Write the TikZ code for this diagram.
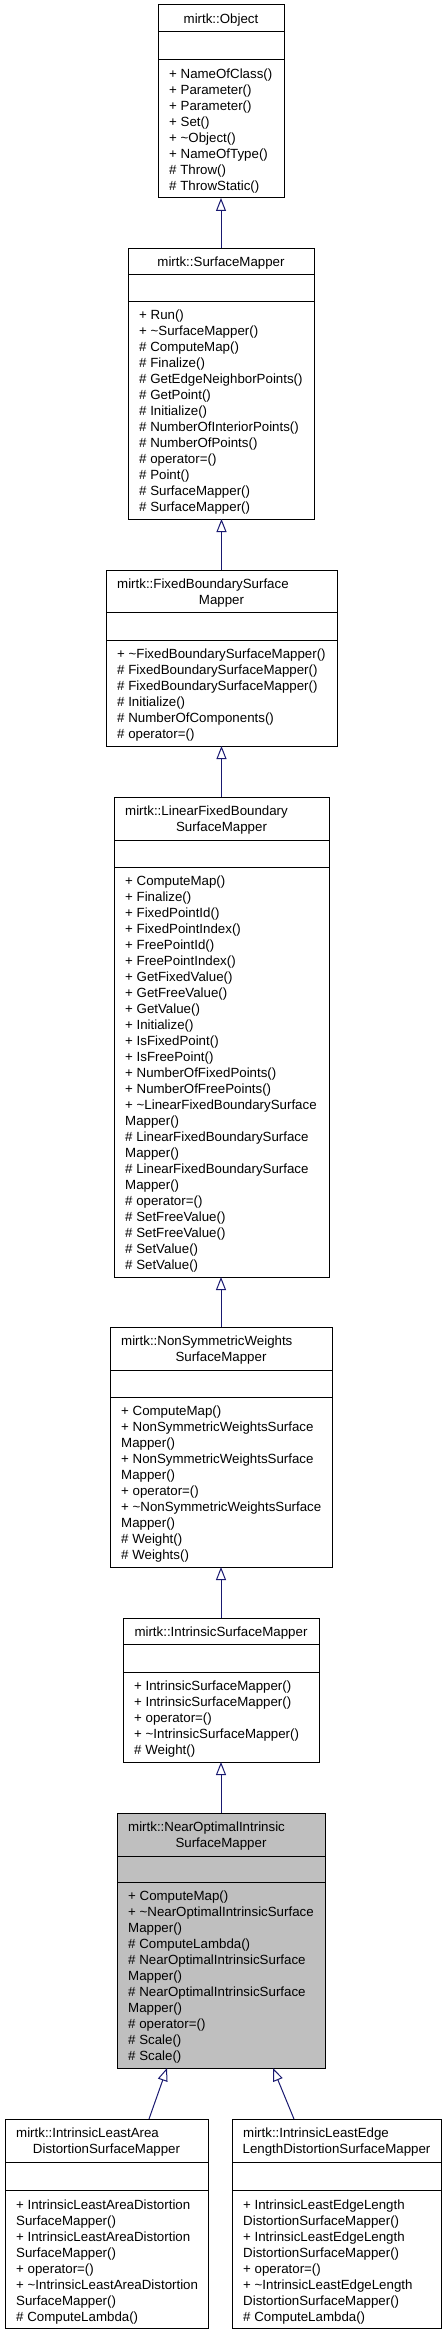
\documentclass[tikz,border=0pt]{standalone}
\usepackage{fontspec}
\setmainfont{Liberation Sans}
\usetikzlibrary{arrows.meta}
\definecolor{edgeblue}{HTML}{191970}
\definecolor{selfgray}{HTML}{BFBFBF}
\tikzset{
  cls/.style={draw=black, line width=1pt, rectangle, inner sep=0pt, outer sep=0pt},
  sepline/.style={draw=black, line width=1pt},
  mem/.style={anchor=base west, inner sep=0pt, font=\fontsize{13.3}{16}\selectfont},
  hdr/.style={inner sep=0pt, font=\fontsize{13.3}{16}\selectfont},
  inh/.style={draw=edgeblue, line width=1pt, -{Triangle[open, length=13pt, width=10pt]}}
}
% name, L, R, T, H, E, B, fill
\newcommand\classbox[8]{%
  \node[cls, fill=#8, minimum width={#3-#2}, minimum height={#7-#4}, anchor=north west] (#1) at (#2,#4) {};
  \draw[sepline] (#2,#5) -- (#3,#5);
  \draw[sepline] (#2,#6) -- (#3,#6);
}
% name, x, first baseline, list
\newcommand\members[4]{%
  \foreach \t [count=\i] in {#4} {\node[mem] (#1-\i) at ({#2},{#3+16*(\i-1)}) {\t};}
}
% single-line header: name, centre x, baseline, text
\newcommand\hdrone[4]{\node[hdr, anchor=base] (#1-h) at ({#2},{#3}) {#4};}
% two-line header: name, left x, centre x, baseline, line1, line2
\newcommand\hdrtwo[6]{%
  \node[hdr, anchor=base west] (#1-h1) at ({#2},{#4}) {#5};
  \node[hdr, anchor=base] (#1-h2) at ({#3},{#4+16}) {#6};
}
\begin{document}
\begin{tikzpicture}[x=1pt, y=-1pt]
\useasboundingbox (0,0) rectangle (447,2336);

% mirtk::Object
\classbox{obj}{158}{284}{5}{32}{60}{198}{white}
\hdrone{obj}{221}{23.5}{mirtk::Object}
\members{obj}{169}{78.5}{+ NameOfClass(), + Parameter(), + Parameter(), + Set(), + \textasciitilde Object(), + NameOfType(), \# Throw(), \# ThrowStatic()}

% mirtk::SurfaceMapper
\classbox{sm}{128}{314}{248}{274}{301}{519}{white}
\hdrone{sm}{221}{266}{mirtk::SurfaceMapper}
\members{sm}{139}{319.5}{+ Run(), + \textasciitilde SurfaceMapper(), \# ComputeMap(), \# Finalize(), \# GetEdgeNeighborPoints(), \# GetPoint(), \# Initialize(), \# NumberOfInteriorPoints(), \# NumberOfPoints(), \# operator=(), \# Point(), \# SurfaceMapper(), \# SurfaceMapper()}

% mirtk::FixedBoundarySurfaceMapper
\classbox{fb}{106}{337}{570}{612}{640}{746}{white}
\hdrtwo{fb}{117}{221.5}{588}{mirtk::FixedBoundarySurface}{Mapper}
\members{fb}{117}{658.5}{+ \textasciitilde FixedBoundarySurfaceMapper(), \# FixedBoundarySurfaceMapper(), \# FixedBoundarySurfaceMapper(), \# Initialize(), \# NumberOfComponents(), \# operator=()}

% mirtk::LinearFixedBoundarySurfaceMapper
\classbox{lf}{114}{329}{797}{840}{867}{1277}{white}
\hdrtwo{lf}{125}{221.5}{815}{mirtk::LinearFixedBoundary}{SurfaceMapper}
\members{lf}{125}{885.5}{+ ComputeMap(), + Finalize(), + FixedPointId(), + FixedPointIndex(), + FreePointId(), + FreePointIndex(), + GetFixedValue(), + GetFreeValue(), + GetValue(), + Initialize(), + IsFixedPoint(), + IsFreePoint(), + NumberOfFixedPoints(), + NumberOfFreePoints(), + \textasciitilde LinearFixedBoundarySurface, Mapper(), \# LinearFixedBoundarySurface, Mapper(), \# LinearFixedBoundarySurface, Mapper(), \# operator=(), \# SetFreeValue(), \# SetFreeValue(), \# SetValue(), \# SetValue()}

% mirtk::NonSymmetricWeightsSurfaceMapper
\classbox{ns}{110}{332}{1327}{1370}{1397}{1567}{white}
\hdrtwo{ns}{121}{221}{1345}{mirtk::NonSymmetricWeights}{SurfaceMapper}
\members{ns}{121}{1415.5}{+ ComputeMap(), + NonSymmetricWeightsSurface, Mapper(), + NonSymmetricWeightsSurface, Mapper(), + operator=(), + \textasciitilde NonSymmetricWeightsSurface, Mapper(), \# Weight(), \# Weights()}

% mirtk::IntrinsicSurfaceMapper
\classbox{int}{123}{319}{1618}{1644}{1672}{1762}{white}
\hdrone{int}{221}{1636}{mirtk::IntrinsicSurfaceMapper}
\members{int}{134}{1690.5}{+ IntrinsicSurfaceMapper(), + IntrinsicSurfaceMapper(), + operator=(), + \textasciitilde IntrinsicSurfaceMapper(), \# Weight()}

% mirtk::NearOptimalIntrinsicSurfaceMapper
\classbox{no}{117}{325}{1813}{1856}{1882}{2068}{selfgray}
\hdrtwo{no}{128}{221}{1831}{mirtk::NearOptimalIntrinsic}{SurfaceMapper}
\members{no}{128}{1900.5}{+ ComputeMap(), + \textasciitilde NearOptimalIntrinsicSurface, Mapper(), \# ComputeLambda(), \# NearOptimalIntrinsicSurface, Mapper(), \# NearOptimalIntrinsicSurface, Mapper(), \# operator=(), \# Scale(), \# Scale()}

% mirtk::IntrinsicLeastAreaDistortionSurfaceMapper
\classbox{ila}{5}{208}{2119}{2162}{2190}{2328}{white}
\hdrtwo{ila}{16}{106.5}{2137.5}{mirtk::IntrinsicLeastArea}{DistortionSurfaceMapper}
\members{ila}{16}{2209}{+ IntrinsicLeastAreaDistortion, SurfaceMapper(), + IntrinsicLeastAreaDistortion, SurfaceMapper(), + operator=(), + \textasciitilde IntrinsicLeastAreaDistortion, SurfaceMapper(), \# ComputeLambda()}

% mirtk::IntrinsicLeastEdgeLengthDistortionSurfaceMapper
\classbox{ile}{232}{441}{2119}{2162}{2190}{2328}{white}
\hdrtwo{ile}{243}{336.5}{2137.5}{mirtk::IntrinsicLeastEdge}{LengthDistortionSurfaceMapper}
\members{ile}{243}{2209}{+ IntrinsicLeastEdgeLength, DistortionSurfaceMapper(), + IntrinsicLeastEdgeLength, DistortionSurfaceMapper(), + operator=(), + \textasciitilde IntrinsicLeastEdgeLength, DistortionSurfaceMapper(), \# ComputeLambda()}

% inheritance connectors
\draw[inh] (sm.north) -- (sm.north |- obj.south);
\draw[inh] (fb.north) -- (fb.north |- sm.south);
\draw[inh] (lf.north) -- (lf.north |- fb.south);
\draw[inh] (ns.north) -- (ns.north |- lf.south);
\draw[inh] (int.north) -- (int.north |- ns.south);
\draw[inh] (no.north) -- (no.north |- int.south);
\draw[inh] ([xshift=42.5pt]ila.north) -- ([xshift=-54pt]no.south);
\draw[inh] ([xshift=-42.5pt]ile.north) -- ([xshift=52pt]no.south);
\end{tikzpicture}
\end{document}
